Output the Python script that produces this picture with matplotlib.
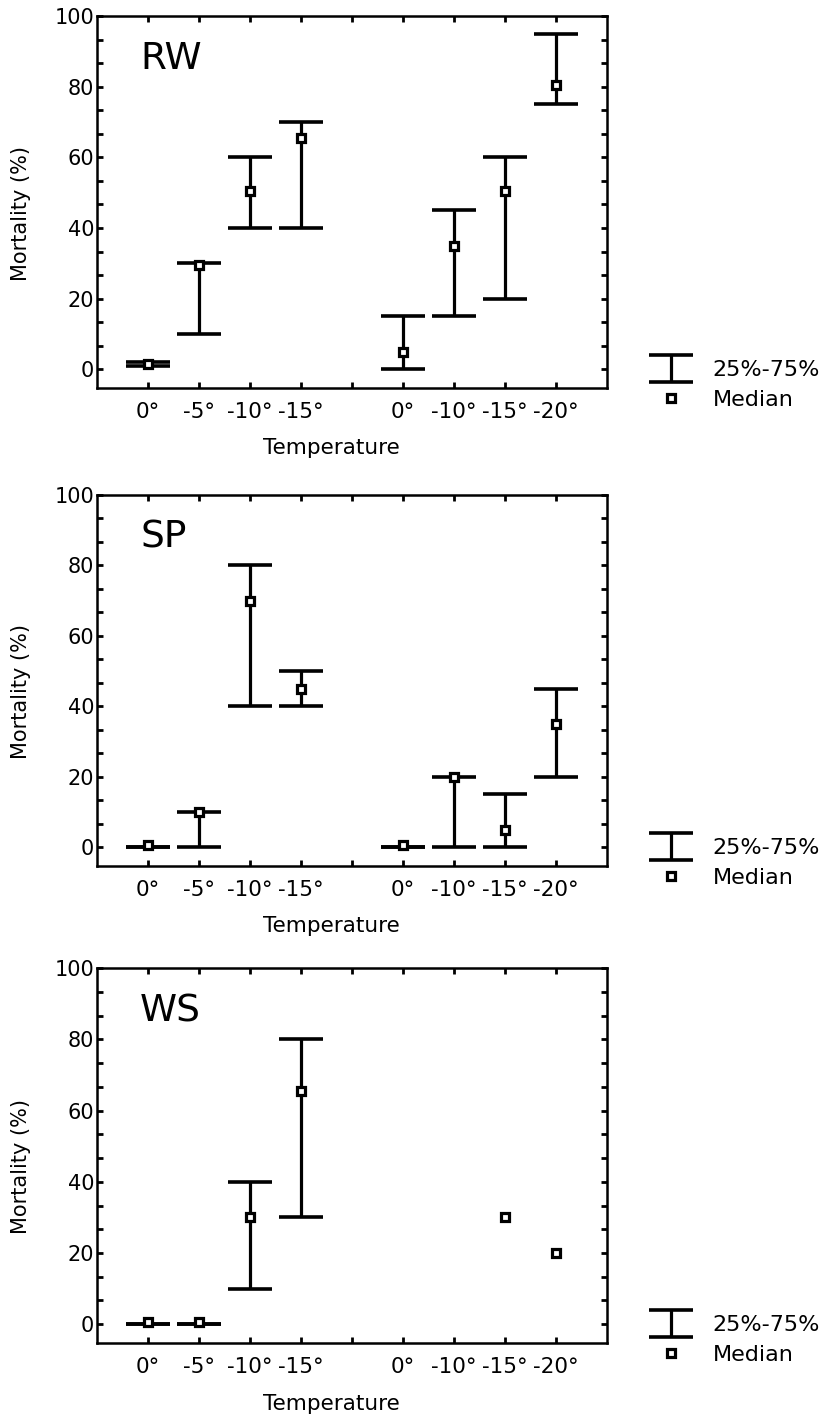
import numpy as np
import matplotlib
matplotlib.use("Agg")
import matplotlib.pyplot as plt
from matplotlib.ticker import AutoMinorLocator
from matplotlib.container import ErrorbarContainer
from matplotlib.legend_handler import HandlerErrorbar

nan = np.nan

temps = ['0°', '-5°', '-10°', '-15°', '0°', '-10°', '-15°', '-20°']
xpos = np.r_[np.arange(1, 5), np.arange(6, 10)]

rw_low = [1, 10, 40, 40, 0, 15, 20, 75]
rw_high = [2, 30, 60, 70, 15, 45, 60, 95]
rw_med = [1.5, 29.5, 50.5, 65.5, 5, 35, 50.5, 80.5]

sp_low = [0, 0, 40, 40, 0, 0, 0, 20]
sp_high = [0, 10, 80, 50, 0, 20, 15, 45]
sp_med = [0.5, 10, 70, 45, 0.5, 20, 5, 35]

ws_low = [0, 0, 10, 30, nan, nan, nan, nan]
ws_high = [0, 0, 40, 80, nan, nan, nan, nan]
ws_med = [0.5, 0.5, 30, 65.5, nan, nan, 30, 20]

panels = [('RW', rw_low, rw_high, rw_med),
          ('SP', sp_low, sp_high, sp_med),
          ('WS', ws_low, ws_high, ws_med)]

# axes boxes in figure fractions (left, bottom, width, height)
boxes = [(0.118, 0.7256, 0.621, 0.263),
         (0.118, 0.3876, 0.621, 0.2624),
         (0.118, 0.0502, 0.621, 0.265)]

fig = plt.figure(figsize=(8.21, 14.14), dpi=100)

for (name, low, high, med), box in zip(panels, boxes):
    ax = fig.add_axes(box)
    low = np.array(low, dtype=float)
    high = np.array(high, dtype=float)
    med = np.array(med, dtype=float)
    mid = (low + high) / 2
    err = [mid - low, high - mid]
    eb = ax.errorbar(xpos, mid, yerr=err, fmt='none', ecolor='black',
                     elinewidth=2.3, capsize=15.5, capthick=2.6)
    mk, = ax.plot(xpos, med, linestyle='none', marker='s', markersize=6.2,
                  markerfacecolor='white', markeredgecolor='black',
                  markeredgewidth=2.3, zorder=5)

    ax.set_xlim(0, 10)
    ax.set_ylim(-5.3, 100)
    ax.set_xticks(range(1, 10))
    labels = [''] * 9
    for p, t in zip(xpos, temps):
        labels[p - 1] = t
    ax.set_xticklabels(labels, fontsize=15.5)
    ax.set_yticks([0, 20, 40, 60, 80, 100])
    ax.tick_params(axis='y', labelsize=15)
    ax.yaxis.set_minor_locator(AutoMinorLocator(3))
    ax.tick_params(which='both', direction='in', top=True, right=True,
                   length=4, width=2)
    ax.tick_params(axis='x', pad=10)
    ax.tick_params(axis='y', pad=2)
    for s in ax.spines.values():
        s.set_linewidth(1.8)

    ax.set_xlabel('Temperature', fontsize=15.5)
    ax.xaxis.set_label_coords(0.46, -0.135)
    ax.set_ylabel('Mortality (%)', fontsize=15)
    ax.yaxis.set_label_coords(-0.13, 0.47)
    ax.text(0.085, 0.885, name, transform=ax.transAxes, fontsize=27,
            va='center', ha='left')

    ax.legend([eb, mk], ['25%-75%', 'Median'],
              loc='center left', bbox_to_anchor=(1.06, 0.008), frameon=False,
              fontsize=16, borderpad=0, handlelength=2.0, handletextpad=0.9,
              labelspacing=0.45,
              handler_map={ErrorbarContainer: HandlerErrorbar(yerr_size=0.6)})

fig.savefig('out.png', dpi=100)
